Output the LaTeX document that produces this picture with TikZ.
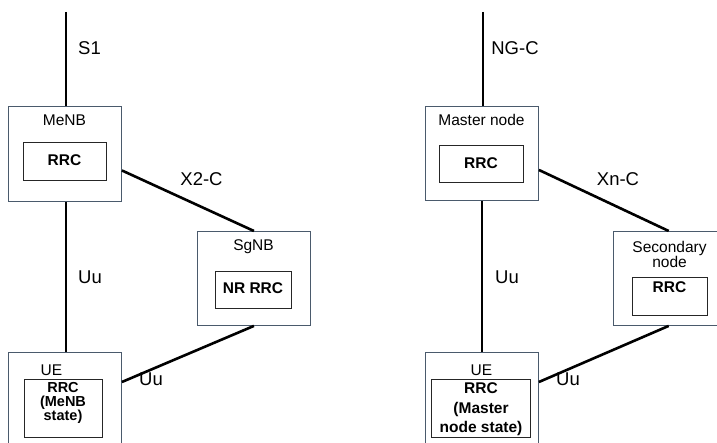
\documentclass[tikz,border=0pt]{standalone}
\usepackage{fontspec}
\setmainfont{Liberation Sans}
\definecolor{boxc}{HTML}{4A5A6C}
\begin{document}
\begin{tikzpicture}[x=1pt,y=-1pt,
  outerbox/.style={draw=boxc, line width=0.9pt, fill=white, anchor=north west, inner sep=0pt},
  innerbox/.style={draw=black!85, line width=0.8pt, anchor=north west, inner sep=0pt},
  small/.style={font=\fontsize{15.5}{15.5}\selectfont, anchor=base, inner sep=0pt},
  bsmall/.style={font=\fontsize{15.5}{15.5}\selectfont\bfseries, anchor=base, inner sep=0pt},
  lbl/.style={font=\fontsize{18.5}{18.5}\selectfont, anchor=base, inner sep=0pt},
  conn/.style={line width=2.6pt, black}]
\useasboundingbox (0,0) rectangle (717,443);
\clip (0,0) rectangle (717,443);
\fill[white] (0,0) rectangle (717,443);

% ---------- left ----------
\coordinate (s1top) at (66,12);
\node[outerbox, minimum width=113pt, minimum height=95pt] (menb) at (8,106) {};
\node[innerbox, minimum width=83pt, minimum height=38pt] (menbrrc) at (23,142) {};
\node[small] (menbt) at (64.5,126) {MeNB};
\node[bsmall] (menbrrct) at (64.5,165.5) {RRC};

\node[outerbox, minimum width=113pt, minimum height=94pt] (sgnb) at (197,231) {};
\node[innerbox, minimum width=76pt, minimum height=37pt] (sgnbrrc) at (215,271) {};
\node[small] (sgnbt) at (253.5,251) {SgNB};
\node[bsmall] (sgnbrrct) at (253,293.5) {NR RRC};

\node[outerbox, minimum width=113pt, minimum height=110pt] (ue1) at (8,352) {};
\node[innerbox, minimum width=78pt, minimum height=58pt] (ue1rrc) at (24,379) {};
\node[small] (ue1t) at (51.5,375) {UE};
\node[font=\fontsize{14.5}{13.8}\selectfont\bfseries, align=center, inner sep=0pt, anchor=north] (ue1rrct) at (63,382.5) {RRC\\(MeNB\\state)};

\draw[conn] (s1top) -- (s1top |- menb.north);
\draw[conn] ([xshift=1pt]menb.south) -- ([xshift=1pt]ue1.north);
\draw[conn] ([yshift=-16.5pt]menb.east) -- (sgnb.north);
\draw[conn] ([yshift=-30pt]ue1.north east) -- (sgnb.south);

\node[lbl] (s1) at (89.5,55) {S1};
\node[lbl] (x2c) at (201.5,186) {X2-C};
\node[lbl] (uu1) at (90,284) {Uu};
\node[lbl] (uu2) at (151,385) {Uu};

% ---------- right ----------
\coordinate (ngtop) at (483,12);
\node[outerbox, minimum width=113pt, minimum height=94pt] (mn) at (425,106) {};
\node[innerbox, minimum width=84pt, minimum height=37pt] (mnrrc) at (439,145) {};
\node[small] (mnt) at (481.5,125.5) {Master node};
\node[bsmall] (mnrrct) at (481,169) {RRC};

\node[outerbox, minimum width=103.5pt, minimum height=94pt] (sn) at (613,231) {};
\node[innerbox, minimum width=75pt, minimum height=38pt] (snrrc) at (632,277) {};
\node[font=\fontsize{15.5}{15.5}\selectfont, align=center, inner sep=0pt, anchor=north] (snt) at (669.5,241) {Secondary\\node};
\node[bsmall] (snrrct) at (669.5,293) {RRC};

\node[outerbox, minimum width=113pt, minimum height=110pt] (ue2) at (425,352) {};
\node[innerbox, minimum width=99pt, minimum height=58pt] (ue2rrc) at (431,379) {};
\node[small] (ue2t) at (481.5,375) {UE};
\node[font=\fontsize{15.5}{19.7}\selectfont\bfseries, align=center, inner sep=0pt, anchor=north] (ue2rrct) at (481,382.5) {RRC\\(Master\\node state)};

\draw[conn] (ngtop) -- (ngtop |- mn.north);
\draw[conn] (mn.south) -- (ue2.north);
\draw[conn] ([yshift=-16.5pt]mn.east) -- ([xshift=3.5pt]sn.north);
\draw[conn] ([yshift=-30pt]ue2.north east) -- ([xshift=3.5pt]sn.south);

\node[lbl] (ngc) at (515,55) {NG-C};
\node[lbl] (xnc) at (618,186) {Xn-C};
\node[lbl] (uu3) at (507,284) {Uu};
\node[lbl] (uu4) at (568,385) {Uu};
\end{tikzpicture}
\end{document}
